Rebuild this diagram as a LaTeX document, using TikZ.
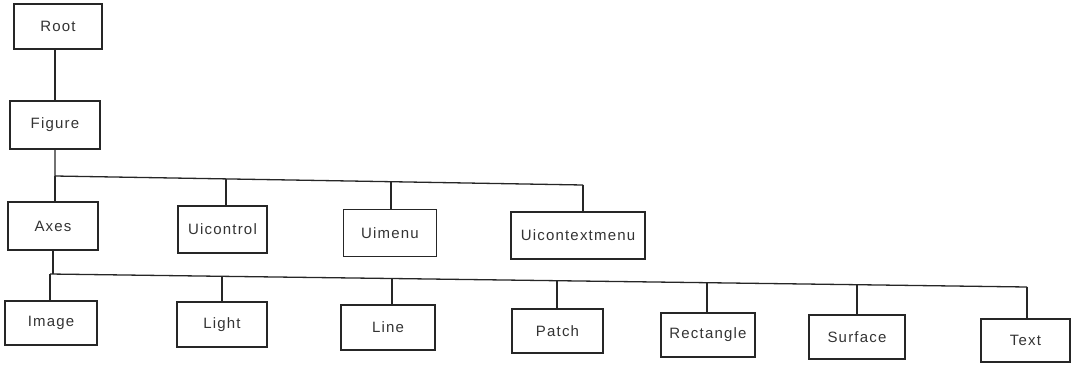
\documentclass[tikz,border=0pt]{standalone}
\usepackage{fontspec}
\setmainfont{Liberation Sans}
\newfontfamily\boxfont[LetterSpace=8]{Liberation Sans}
\begin{document}
\begin{tikzpicture}[x=1pt,y=-1pt,
  box/.style={draw=black!85, line width=1.3pt, inner sep=0pt, align=center,
    font=\boxfont\fontsize{15}{18}\selectfont, text=black!80},
  conn/.style={draw=black!85, line width=1.3pt, line join=miter}]
\useasboundingbox (0,0) rectangle (1072,368);
% level 0-1
\node[box, minimum width=88pt, minimum height=45pt] (root) at (58,26.5) {Root};
\node[box, minimum width=90pt, minimum height=48pt] (figure) at (55,125) {Figure};
% level 2
\node[box, minimum width=90pt, minimum height=48pt] (axes) at (53,226) {Axes};
\node[box, minimum width=89pt, minimum height=47pt] (uicontrol) at (222.5,229.5) {Uicontrol};
\node[box, minimum width=93pt, minimum height=47pt] (uimenu) at (390,233) {Uimenu};
\node[box, minimum width=134pt, minimum height=47pt] (uictx) at (578,235.5) {Uicontextmenu};
% level 3
\node[box, minimum width=92pt, minimum height=44pt] (image) at (51,323) {Image};
\node[box, minimum width=90pt, minimum height=45pt] (light) at (222,324.5) {Light};
\node[box, minimum width=94pt, minimum height=45pt] (line) at (388,327.5) {Line};
\node[box, minimum width=91pt, minimum height=44pt] (patch) at (557.5,331) {Patch};
\node[box, minimum width=94pt, minimum height=44pt] (rect) at (708,335) {Rectangle};
\node[box, minimum width=96pt, minimum height=44pt] (surface) at (857,337) {Surface};
\node[box, minimum width=89pt, minimum height=43pt] (text) at (1025.5,340.5) {Text};
% bus 1 coordinates
\coordinate (b1a) at (55,176);
\coordinate (b1c) at (226,178.9);
\coordinate (b1d) at (391,181.7);
\coordinate (b1e) at (583,185);
% bus 2 coordinates
\coordinate (b2a) at (50,274);
\coordinate (b2x) at (53,274);
\coordinate (b2b) at (222,276.3);
\coordinate (b2c) at (392,278.5);
\coordinate (b2d) at (557,280.7);
\coordinate (b2e) at (707,282.7);
\coordinate (b2f) at (857,284.7);
\coordinate (b2g) at (1027,287);
% connectors
\draw[conn] (root.south -| figure.south) -- (figure.north);
\draw[conn] (figure.south) -- (b1a) -- (b1c) -- (b1d) -- (b1e);
\draw[conn] (b1a) -- (b1a |- axes.north);
\draw[conn] (b1c) -- (b1c |- uicontrol.north);
\draw[conn] (b1d) -- (b1d |- uimenu.north);
\draw[conn] (b1e) -- (b1e |- uictx.north);
\draw[conn] (axes.south) -- (b2x);
\draw[conn] (b2a) -- (b2b) -- (b2c) -- (b2d) -- (b2e) -- (b2f) -- (b2g);
\draw[conn] (b2a) -- (b2a |- image.north);
\draw[conn] (b2b) -- (b2b |- light.north);
\draw[conn] (b2c) -- (b2c |- line.north);
\draw[conn] (b2d) -- (b2d |- patch.north);
\draw[conn] (b2e) -- (b2e |- rect.north);
\draw[conn] (b2f) -- (b2f |- surface.north);
\draw[conn] (b2g) -- (b2g |- text.north);
\end{tikzpicture}
\end{document}
